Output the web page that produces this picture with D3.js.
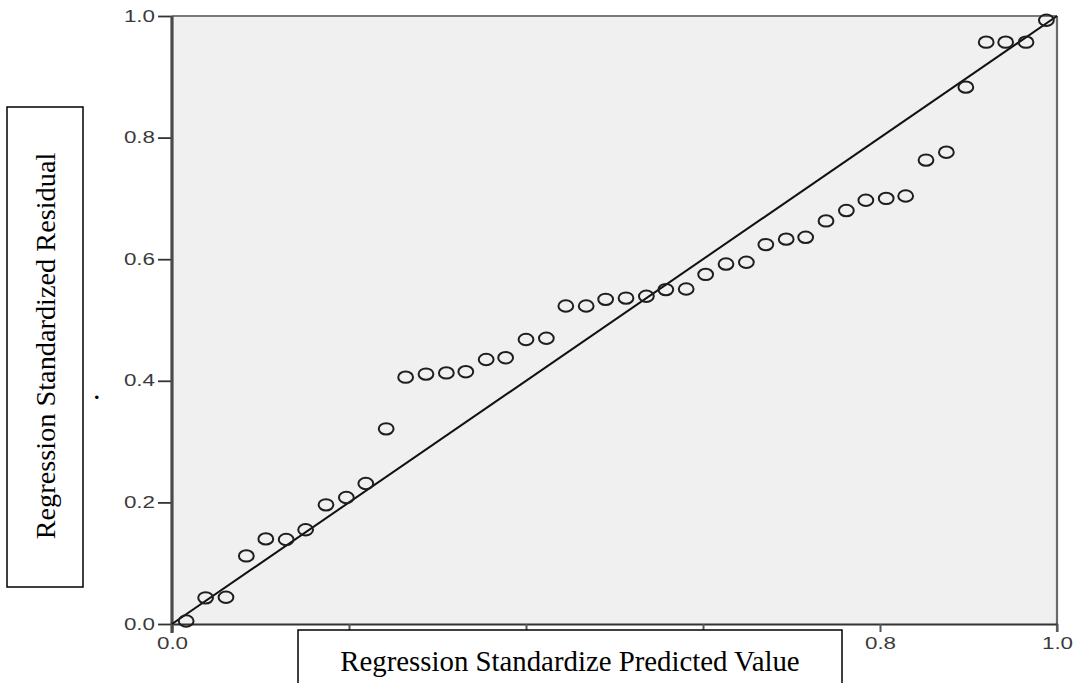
<!DOCTYPE html>
<html>
<head>
<meta charset="utf-8">
<script src="https://cdn.jsdelivr.net/npm/d3@7"></script>
<style>
  html, body { margin: 0; padding: 0; background: #fff; }
  svg { display: block; }
</style>
</head>
<body>
<svg id="chart" width="1074" height="683"></svg>
<script>
// ---- data ----
const predicted = [0.016, 0.038, 0.061, 0.084, 0.106, 0.129, 0.151, 0.174, 0.197, 0.219,
  0.242, 0.264, 0.287, 0.310, 0.332, 0.355, 0.377, 0.400, 0.423, 0.445,
  0.468, 0.490, 0.513, 0.536, 0.558, 0.581, 0.603, 0.626, 0.649, 0.671,
  0.694, 0.716, 0.739, 0.762, 0.784, 0.807, 0.829, 0.852, 0.875, 0.897,
  0.920, 0.942, 0.965, 0.988];
const residual = [0.005, 0.043, 0.044, 0.112, 0.140, 0.139, 0.155, 0.196, 0.208, 0.231,
  0.321, 0.406, 0.411, 0.413, 0.415, 0.435, 0.438, 0.468, 0.470, 0.523,
  0.523, 0.534, 0.536, 0.539, 0.550, 0.551, 0.575, 0.592, 0.595, 0.624,
  0.633, 0.636, 0.663, 0.680, 0.697, 0.700, 0.704, 0.763, 0.776, 0.883,
  0.957, 0.957, 0.957, 0.993];
const refLine = [[0, 0], [1, 1]];
const xTicks = [0, 0.2, 0.4, 0.6, 0.8, 1.0];
// labels 0.2–0.6 are hidden behind the title box in the reference
const xTickLabels = ["0.0", "", "", "", "0.8", "1.0"];
const yTicks = [0, 0.2, 0.4, 0.6, 0.8, 1.0];
const yTickLabels = ["0.0", "0.2", "0.4", "0.6", "0.8", "1.0"];
const xTitle = "Regression Standardize Predicted Value";
const yTitle = "Regression Standardized Residual";

// ---- layout ----
const svg = d3.select("#chart");
const L = 172, R = 1057, T = 16, B = 624;
const x = d3.scaleLinear().domain([0, 1]).range([L, R]);
const y = d3.scaleLinear().domain([0, 1]).range([B, T]);
const tickFont = "'Liberation Sans', Arial, sans-serif";
const serif = "'Liberation Serif', 'Times New Roman', serif";
const SX = 1.4;

// plot background
svg.append("rect")
  .attr("x", L).attr("y", T).attr("width", R - L).attr("height", B - T)
  .attr("fill", "#f0f0f0");

// top and right frame
svg.append("line").attr("x1", L).attr("x2", R).attr("y1", T).attr("y2", T)
  .attr("stroke", "#7a7a7a").attr("stroke-width", 2);
svg.append("line").attr("x1", R).attr("x2", R).attr("y1", T).attr("y2", B + 8)
  .attr("stroke", "#6a6a6a").attr("stroke-width", 2.2);

// x axis
const gx = svg.append("g").attr("transform", `translate(0,${B})`)
  .call(d3.axisBottom(x).tickValues(xTicks)
    .tickFormat((d, i) => xTickLabels[i]).tickSize(8).tickSizeOuter(0).tickPadding(6));
gx.select(".domain").attr("stroke", "#333").attr("stroke-width", 2);
gx.selectAll(".tick line").attr("stroke", "#555").attr("stroke-width", 2);
gx.selectAll(".tick text")
  .attr("font-family", tickFont).attr("font-size", 16).attr("fill", "#3a3a3a")
  .attr("transform", `scale(${SX},1)`);

// y axis
const gy = svg.append("g").attr("transform", `translate(${L},0)`)
  .call(d3.axisLeft(y).tickValues(yTicks)
    .tickFormat((d, i) => yTickLabels[i]).tickSize(14).tickSizeOuter(0).tickPadding(3));
gy.select(".domain").remove();
gy.selectAll(".tick line").attr("stroke", "#333").attr("stroke-width", 1.8);
gy.selectAll(".tick text")
  .attr("font-family", tickFont).attr("font-size", 16).attr("fill", "#3a3a3a")
  .attr("transform", `translate(-17,0) scale(${SX},1) translate(17,0)`);

// thick y axis line (extends a little below the x axis)
svg.append("line").attr("x1", L).attr("x2", L).attr("y1", y(1)).attr("y2", B + 9)
  .attr("stroke", "#4a4a4a").attr("stroke-width", 3.2);

// reference diagonal
svg.append("path")
  .datum(refLine)
  .attr("d", d3.line().x(d => x(d[0])).y(d => y(d[1])))
  .attr("fill", "none").attr("stroke", "#111").attr("stroke-width", 2);

// points
svg.append("g").selectAll("ellipse")
  .data(predicted.map((p, i) => ({ p, r: residual[i] })))
  .join("ellipse")
  .attr("cx", d => x(d.p)).attr("cy", d => y(d.r))
  .attr("rx", 7.4).attr("ry", 5.7)
  .attr("fill", "none").attr("stroke", "#1e1e1e").attr("stroke-width", 2);

// x title box
svg.append("rect").attr("x", 298).attr("y", 630).attr("width", 544).attr("height", 70)
  .attr("fill", "#fff").attr("stroke", "#000").attr("stroke-width", 1.5);
svg.append("text").attr("x", 570).attr("y", 671)
  .attr("text-anchor", "middle").attr("font-family", serif).attr("font-size", 28.8)
  .attr("fill", "#000").text(xTitle);

// y title box
svg.append("rect").attr("x", 7).attr("y", 107).attr("width", 76).attr("height", 480)
  .attr("fill", "#fff").attr("stroke", "#000").attr("stroke-width", 1.5);
svg.append("text").attr("transform", "translate(55,346) rotate(-90)")
  .attr("text-anchor", "middle").attr("font-family", serif).attr("font-size", 28.3)
  .attr("fill", "#000").text(yTitle);

// stray period mark near the y title
svg.append("text").attr("x", 94).attr("y", 399)
  .attr("font-family", serif).attr("font-size", 22).attr("font-weight", "bold")
  .attr("fill", "#000").text(".");
</script>
</body>
</html>
